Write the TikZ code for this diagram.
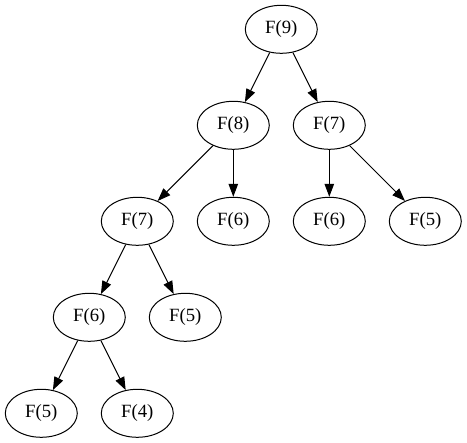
\documentclass[tikz,border=0pt]{standalone}
\usepackage{fontspec}
\setmainfont{Liberation Serif}
\usetikzlibrary{shapes.geometric,arrows.meta}
\begin{document}
\begin{tikzpicture}[x=1pt,y=-1pt,
  fnode/.style={draw,ellipse,line width=1pt,minimum width=72pt,minimum height=48pt,inner sep=0pt,font=\fontsize{18.7}{20}\selectfont},
  fedge/.style={line width=1pt,-{Triangle[length=13pt,width=9.5pt]}}]
\useasboundingbox (0,0) rectangle (467,443);
\node[fnode] (n9) at (281.3,29.3) {F(9)};
\node[fnode] (n8) at (233.3,125.3) {F(8)};
\node[fnode] (n7r) at (329.3,125.3) {F(7)};
\node[fnode] (n7l) at (137.3,221.3) {F(7)};
\node[fnode] (n6m) at (233.3,221.3) {F(6)};
\node[fnode] (n6r) at (329.3,221.3) {F(6)};
\node[fnode] (n5r) at (425.3,221.3) {F(5)};
\node[fnode] (n6l) at (89.3,317.3) {F(6)};
\node[fnode] (n5m) at (185.3,317.3) {F(5)};
\node[fnode] (n5b) at (41.3,413.3) {F(5)};
\node[fnode] (n4) at (137.3,413.3) {F(4)};
\draw[fedge] (n9) -- (n8);
\draw[fedge] (n9) -- (n7r);
\draw[fedge] (n8) -- (n7l);
\draw[fedge] (n8) -- (n6m);
\draw[fedge] (n7r) -- (n6r);
\draw[fedge] (n7r) -- (n5r);
\draw[fedge] (n7l) -- (n6l);
\draw[fedge] (n7l) -- (n5m);
\draw[fedge] (n6l) -- (n5b);
\draw[fedge] (n6l) -- (n4);
\end{tikzpicture}
\end{document}
